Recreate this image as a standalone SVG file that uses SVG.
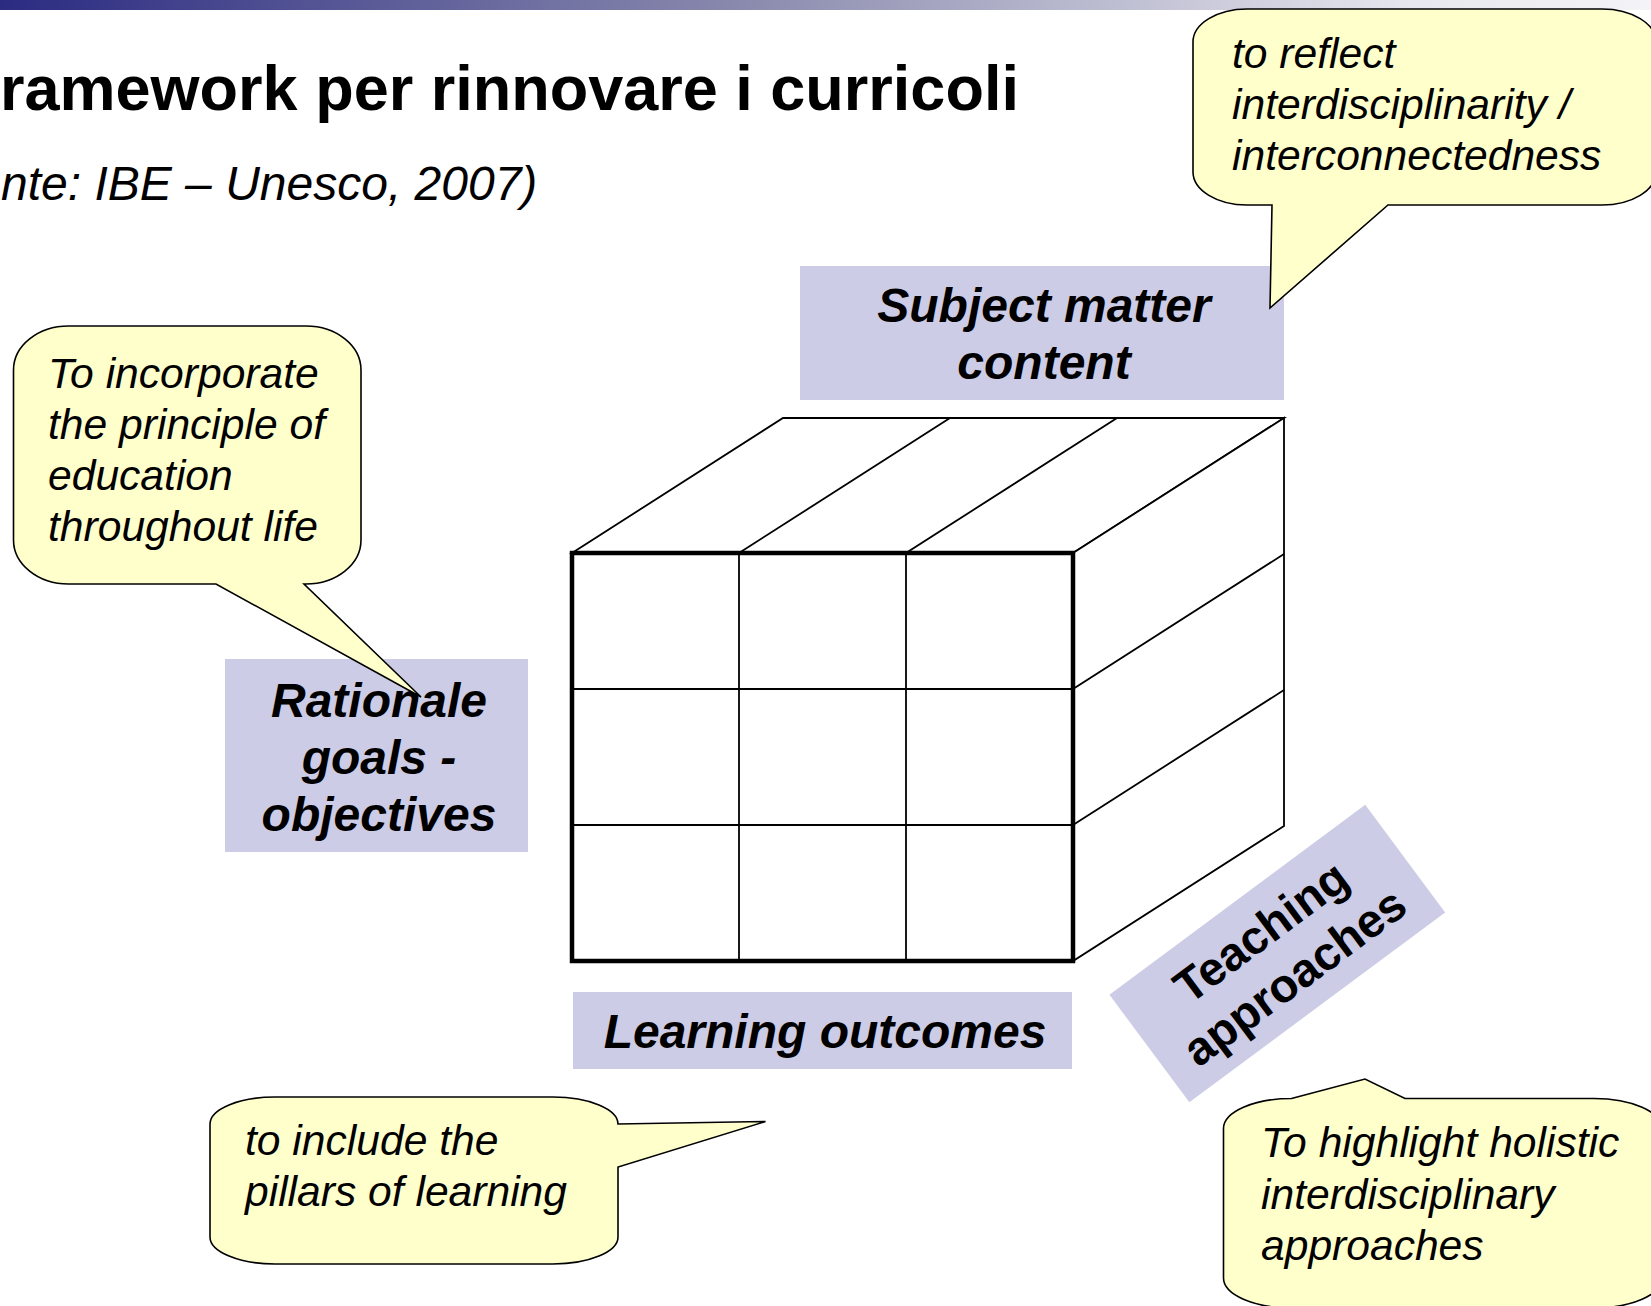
<svg xmlns="http://www.w3.org/2000/svg" width="1651" height="1306" viewBox="0 0 1651 1306">
  <defs>
    <linearGradient id="barGrad" x1="0" y1="0" x2="1" y2="0">
      <stop offset="0" stop-color="#2B2B82"/>
      <stop offset="0.45" stop-color="#8A8AAE"/>
      <stop offset="0.85" stop-color="#E6E6EE"/>
      <stop offset="1" stop-color="#F4F4F7"/>
    </linearGradient>
    <style>
      .title { font-family: "Liberation Sans", Arial, sans-serif; font-weight: bold; font-size: 63px; fill: #000; }
      .subtitle { font-family: "Liberation Sans", Arial, sans-serif; font-style: italic; font-size: 48px; fill: #000; }
      .label { fill: #CCCCE6; stroke: none; }
      .label-text { font-family: "Liberation Sans", Arial, sans-serif; font-weight: bold; font-style: italic; font-size: 48px; fill: #000; text-anchor: middle; }
      .label-upright { font-family: "Liberation Sans", Arial, sans-serif; font-weight: bold; font-size: 47px; fill: #000; text-anchor: middle; }
      .callout { fill: #FFFFCC; stroke: #000; stroke-width: 1.6; stroke-linejoin: miter; }
      .callout-text { font-family: "Liberation Sans", Arial, sans-serif; font-style: italic; font-size: 42.6px; fill: #000; }
      .face { fill: #FFFFFF; stroke: #000; stroke-width: 1.8; stroke-linejoin: miter; }
      .grid { fill: none; stroke: #000; stroke-width: 1.8; }
      .front-frame { fill: none; stroke: #000; stroke-width: 4.5; }
    </style>
  </defs>

  <rect x="0" y="0" width="1651" height="1306" fill="#FFFFFF"/>

  <!-- header bar -->
  <rect id="header-bar" x="0" y="0" width="1651" height="10" fill="url(#barGrad)"/>

  <!-- slide heading -->
  <g id="heading">
    <text class="title" x="0" y="110">ramework per rinnovare i curricoli</text>
    <text class="subtitle" x="1" y="200">nte: IBE – Unesco, 2007)</text>
  </g>

  <!-- 3x3 cube -->
  <g id="cube">
    <!-- top face -->
    <polygon class="face" points="572,553 783,418 1284,418 1073,553"/>
    <line class="grid" x1="739" y1="553" x2="950" y2="418"/>
    <line class="grid" x1="906" y1="553" x2="1117" y2="418"/>
    <!-- right face -->
    <polygon class="face" points="1073,553 1284,418 1284,826 1073,961"/>
    <line class="grid" x1="1073" y1="689" x2="1284" y2="554"/>
    <line class="grid" x1="1073" y1="825" x2="1284" y2="690"/>
    <!-- front face -->
    <rect x="572" y="553" width="501" height="408" fill="#FFFFFF"/>
    <line class="grid" x1="739" y1="553" x2="739" y2="961"/>
    <line class="grid" x1="906" y1="553" x2="906" y2="961"/>
    <line class="grid" x1="572" y1="689" x2="1073" y2="689"/>
    <line class="grid" x1="572" y1="825" x2="1073" y2="825"/>
    <rect class="front-frame" x="572" y="553" width="501" height="408"/>
  </g>

  <!-- dimension labels -->
  <g id="subject-matter">
    <rect class="label" x="800" y="266" width="484" height="134"/>
    <text class="label-text"><tspan x="1044" y="322">Subject matter</tspan><tspan x="1044" y="379">content</tspan></text>
  </g>

  <g id="rationale">
    <rect class="label" x="225" y="659" width="303" height="193"/>
    <text class="label-text"><tspan x="379" y="717">Rationale</tspan><tspan x="379" y="774">goals -</tspan><tspan x="379" y="831">objectives</tspan></text>
  </g>

  <g id="learning-outcomes">
    <rect class="label" x="573" y="992" width="499" height="77"/>
    <text class="label-text" x="825" y="1048">Learning outcomes</text>
  </g>

  <g id="teaching-approaches" transform="translate(1277.3,953.6) rotate(-36.6)">
    <rect class="label" x="-159.3" y="-67" width="318.6" height="134"/>
    <text class="label-upright"><tspan x="0" y="-11">Teaching</tspan><tspan x="0" y="45">approaches</tspan></text>
  </g>

  <!-- callouts -->
  <g id="callout-reflect">
    <path class="callout" d="M 1247,9 H 1602 A 54 33 0 0 1 1656 42 V 172 A 54 33 0 0 1 1602 205 H 1388 L 1270 308 L 1272 205 H 1247 A 54 33 0 0 1 1193 172 V 42 A 54 33 0 0 1 1247 9 Z"/>
    <text class="callout-text"><tspan x="1232" y="68">to reflect</tspan><tspan x="1232" y="119">interdisciplinarity /</tspan><tspan x="1232" y="170">interconnectedness</tspan></text>
  </g>

  <g id="callout-lifelong">
    <path class="callout" d="M 68.5,326 H 306 A 55 44 0 0 1 361 370 V 540 A 55 44 0 0 1 306 584 H 304 L 421 697 L 216 584 H 68.5 A 55 44 0 0 1 13.5 540 V 370 A 55 44 0 0 1 68.5 326 Z"/>
    <text class="callout-text"><tspan x="48" y="388">To incorporate</tspan><tspan x="48" y="439">the principle of</tspan><tspan x="48" y="490">education</tspan><tspan x="48" y="541">throughout life</tspan></text>
  </g>

  <g id="callout-pillars">
    <path class="callout" d="M 275,1097 H 553 A 65 27 0 0 1 618 1124 L 765.5 1121.5 L 618 1167 V 1237 A 65 27 0 0 1 553 1264 H 275 A 65 27 0 0 1 210 1237 V 1124 A 65 27 0 0 1 275 1097 Z"/>
    <text class="callout-text"><tspan x="245" y="1155">to include the</tspan><tspan x="245" y="1206">pillars of learning</tspan></text>
  </g>

  <g id="callout-holistic">
    <path class="callout" d="M 1291.5,1098.5 L 1365 1079 L 1405 1098.5 H 1594 A 68 30 0 0 1 1662 1128.5 V 1278 A 68 30 0 0 1 1594 1308 H 1291.5 A 68 30 0 0 1 1223.5 1278 V 1128.5 A 68 30 0 0 1 1291.5 1098.5 Z"/>
    <text class="callout-text"><tspan x="1261" y="1157">To highlight holistic</tspan><tspan x="1261" y="1209">interdisciplinary</tspan><tspan x="1261" y="1260">approaches</tspan></text>
  </g>
</svg>
